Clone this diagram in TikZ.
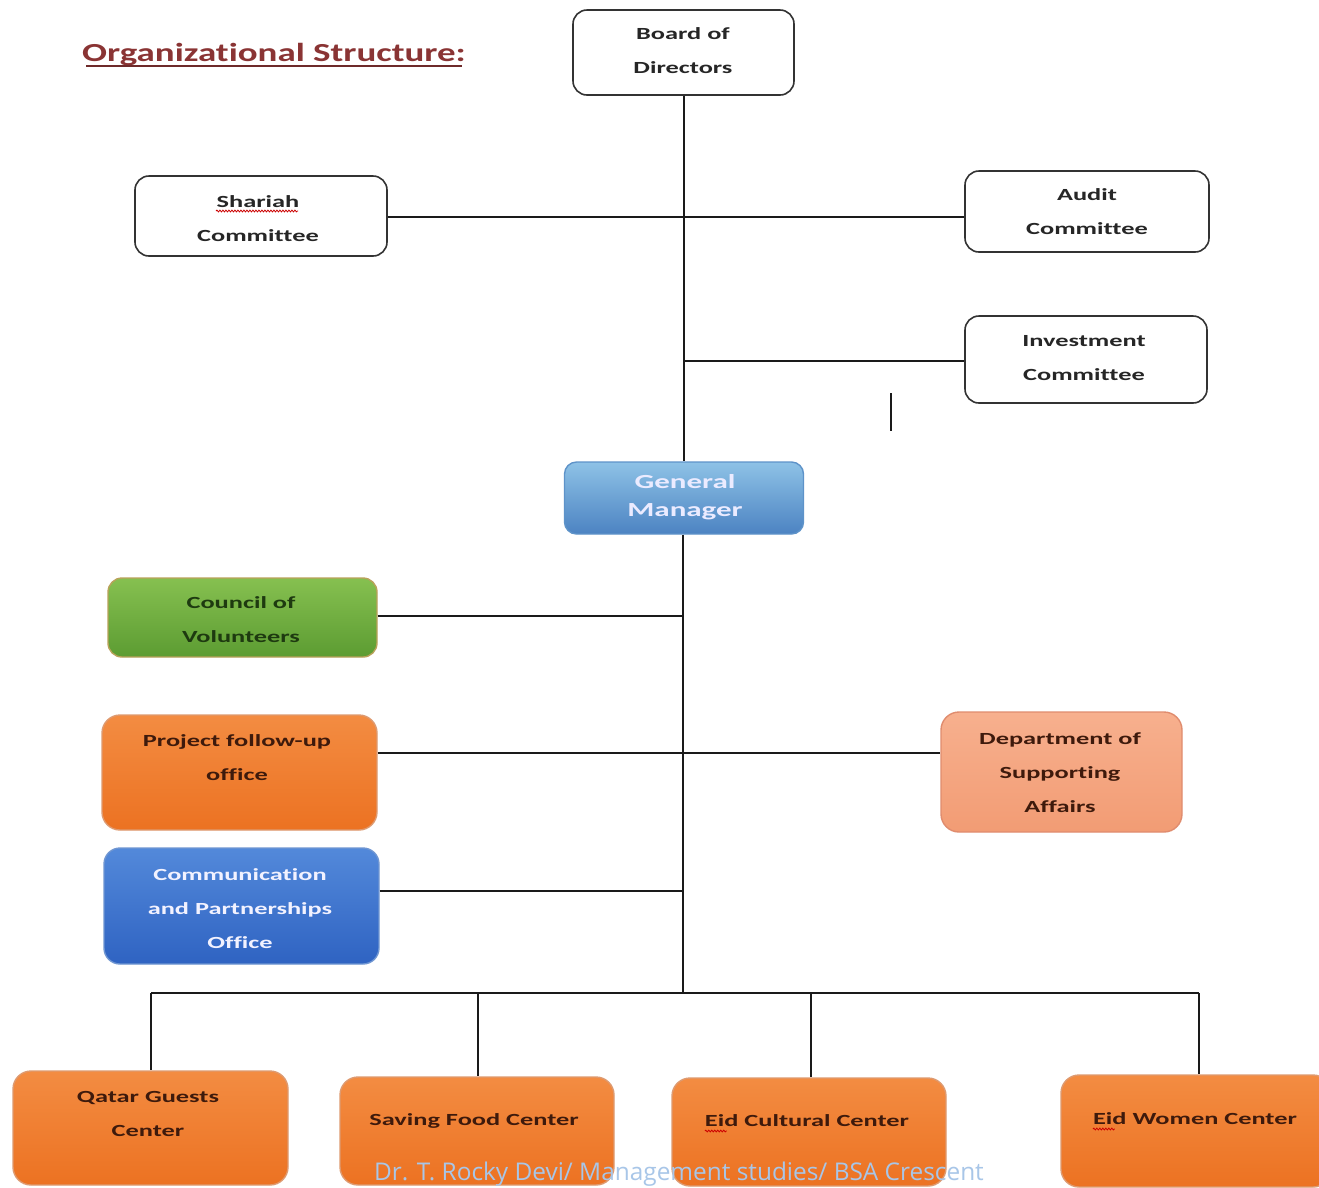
\documentclass[tikz,border=0pt]{standalone}
\usepackage{fontspec}
\usetikzlibrary{decorations.pathmorphing}
\newfontfamily\boxfont[FakeStretch=1.55,Ligatures=NoCommon]{Carlito}
\newfontfamily\titlefont[FakeStretch=1.42,Ligatures=NoCommon]{Carlito}
\newfontfamily\footfont{Open Sans}

\definecolor{lineblack}{HTML}{1A1A1A}
\definecolor{titlered}{HTML}{8A3434}
\definecolor{gmtop}{HTML}{8EC2E6}
\definecolor{gmbot}{HTML}{4C83C2}
\definecolor{gmedge}{HTML}{5E93C9}
\definecolor{grtop}{HTML}{86C050}
\definecolor{grbot}{HTML}{5C9C32}
\definecolor{gredge}{HTML}{B9A25A}
\definecolor{ortop}{HTML}{F38C42}
\definecolor{orbot}{HTML}{EC7222}
\definecolor{oredge}{HTML}{DE9A70}
\definecolor{satop}{HTML}{F7B08E}
\definecolor{sabot}{HTML}{F29C74}
\definecolor{saedge}{HTML}{E08C6E}
\definecolor{bltop}{HTML}{5389DA}
\definecolor{blbot}{HTML}{2F63C2}
\definecolor{bledge}{HTML}{6F96D2}
\definecolor{darktext}{HTML}{3E1A0C}
\definecolor{greentext}{HTML}{1E3A10}
\definecolor{foottext}{HTML}{A8C6E8}

\tikzset{
  every node/.style={inner sep=0pt},
  wire/.style={draw=lineblack, line width=1.7pt},
  plainbox/.style={draw=black!80, line width=1.6pt, fill=white, rounded corners=14pt},
  gmbox/.style={draw=gmedge, line width=1.4pt, rounded corners=12pt, top color=gmtop, bottom color=gmbot},
  greenbox/.style={draw=gredge, line width=1.4pt, rounded corners=14pt, top color=grtop, bottom color=grbot},
  orangebox/.style={draw=oredge, line width=1.4pt, rounded corners=18pt, top color=ortop, bottom color=orbot},
  salmonbox/.style={draw=saedge, line width=1.4pt, rounded corners=18pt, top color=satop, bottom color=sabot},
  bluebox/.style={draw=bledge, line width=1.4pt, rounded corners=16pt, top color=bltop, bottom color=blbot},
  boxtext/.style={align=center, font=\boxfont\bfseries\fontsize{17}{34}\selectfont},
  gmtext/.style={align=center, font=\boxfont\bfseries\fontsize{20}{28}\selectfont},
  spell/.style={draw=red!80!black, line width=0.8pt, decorate,
    decoration={snake, amplitude=0.9pt, segment length=3pt}}
}

\begin{document}
\begin{tikzpicture}[x=1pt, y=-1pt]
\useasboundingbox (0,0) rectangle (1319,1187);
\fill[white] (0,0) rectangle (1319,1187);

% heading
\node[font=\titlefont\bfseries\fontsize{26}{26}\selectfont, text=titlered, anchor=base] (title) at (274,61) {Organizational Structure:};
\draw[titlered!80!black, line width=1.3pt] (86,66) -- (462,66);

% governance level
\node[plainbox, minimum width=221pt, minimum height=85pt] (board) at (683.5,52.5) {};
\node[boxtext, text=black!85] (boardtext) at (683,51) {Board of\\Directors};

\node[plainbox, minimum width=252pt, minimum height=80pt] (shariah) at (261,216) {};
\node[boxtext, text=black!85] (shariahtext) at (258,219) {Shariah\\Committee};
\draw[spell] (216,211) -- (298,211);

\node[plainbox, minimum width=244pt, minimum height=81pt] (audit) at (1087,211.5) {};
\node[boxtext, text=black!85] (audittext) at (1087,212) {Audit\\Committee};

\node[plainbox, minimum width=242pt, minimum height=87pt] (invest) at (1086,359.5) {};
\node[boxtext, text=black!85] (investtext) at (1084,358) {Investment\\Committee};

% stray mark
\coordinate (markA) at (891,393);
\coordinate (markB) at (891,431);
\draw[wire] (markA) -- (markB);

% general manager
\node[gmbox, minimum width=239pt, minimum height=72pt] (gm) at (684,498) {};
\node[gmtext, text=white!92!blue] (gmtexts) at (685,497) {General\\Manager};

% backbone above manager
\coordinate (jShariah) at (684,217);
\coordinate (jInvest) at (684,361);
\draw[wire] (board.south -| gm.north) -- (gm.north);
\draw[wire] (shariah.east |- jShariah) -- (audit.west |- jShariah);
\draw[wire] (jInvest) -- (invest.west |- jInvest);

% staff offices
\node[greenbox, minimum width=269pt, minimum height=79pt] (council) at (242.5,617.5) {};
\node[boxtext, text=greentext] (counciltext) at (241,620) {Council of\\Volunteers};

\node[orangebox, minimum width=275pt, minimum height=115pt] (project) at (239.5,772.5) {};
\node[boxtext, text=darktext] (projecttext) at (237,758) {Project follow-up\\office};

\node[salmonbox, minimum width=241pt, minimum height=120pt] (dept) at (1061.5,772) {};
\node[boxtext, text=darktext] (depttext) at (1060,773) {Department of\\Supporting\\Affairs};

\node[bluebox, minimum width=275pt, minimum height=116pt] (comm) at (241.5,906) {};
\node[boxtext, text=white!95!blue] (commtext) at (240,909) {Communication\\and Partnerships\\Office};

% backbone below manager
\coordinate (jCouncil) at (683,616);
\coordinate (jProject) at (683,753);
\coordinate (jComm) at (683,891);
\coordinate (jBottom) at (683,993);
\draw[wire] (gm.south -| jBottom) -- (jBottom);
\draw[wire] (council.east |- jCouncil) -- (jCouncil);
\draw[wire] (project.east |- jProject) -- (dept.west |- jProject);
\draw[wire] (comm.east |- jComm) -- (jComm);

% centres
\begin{scope}
\clip (0,0) rectangle (1319,1187);
\node[orangebox, minimum width=275pt, minimum height=114pt] (qatar) at (150.5,1128) {};
\node[orangebox, minimum width=274pt, minimum height=108pt] (saving) at (477,1131) {};
\node[orangebox, minimum width=274pt, minimum height=108pt] (eidcult) at (809,1132) {};
\node[orangebox, minimum width=270pt, minimum height=112pt] (eidwomen) at (1196,1131) {};
\end{scope}
\node[boxtext, text=darktext] (qatartext) at (148,1114) {Qatar Guests\\Center};
\node[boxtext, text=darktext, anchor=base] (savingtext) at (474,1125) {Saving Food Center};
\node[boxtext, text=darktext, anchor=base] (eidculttext) at (807,1126) {Eid Cultural Center};
\node[boxtext, text=darktext, anchor=base] (eidwomentext) at (1195,1124) {Eid Women Center};
\draw[spell] ([yshift=-5pt]eidculttext.base west) -- ++(22,0);
\draw[spell] ([yshift=-5pt]eidwomentext.base west) -- ++(22,0);

\coordinate (bLeft) at (151,993);
\coordinate (bRight) at (1199,993);
\draw[wire] (bLeft) -- (bRight);
\draw[wire] (bLeft) -- (qatar.north -| bLeft);
\draw[wire] (478,993) -- (saving.north -| 478,0);
\draw[wire] (811,993) -- (eidcult.north -| 811,0);
\draw[wire] (bRight) -- (eidwomen.north -| bRight);

% footer
\node[font=\footfont\fontsize{24.4}{24.4}\selectfont, text=foottext, anchor=base] (footer) at (679,1180) {Dr. T. Rocky Devi/ Management studies/ BSA Crescent};
\end{tikzpicture}
\end{document}
